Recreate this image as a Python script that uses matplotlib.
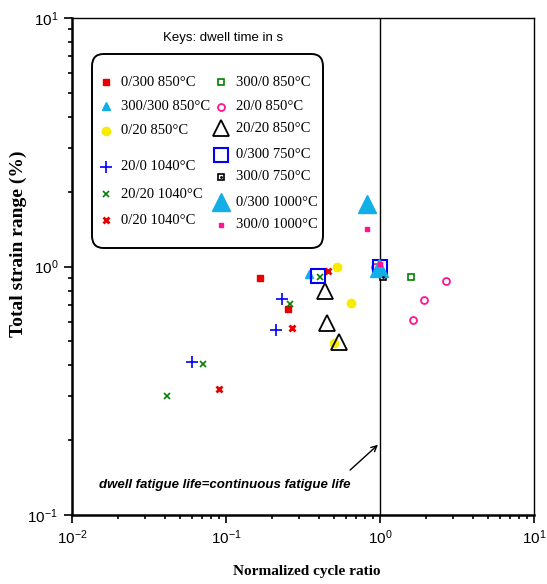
import matplotlib
matplotlib.use("Agg")
import matplotlib.pyplot as plt
from matplotlib.patches import FancyBboxPatch

plt.rcParams["font.family"] = ["Liberation Sans", "DejaVu Sans"]
plt.rcParams["mathtext.default"] = "regular"

# data: (x = normalized cycle ratio, y = total strain range %)
x_0300_850 = [0.166, 0.253]
y_0300_850 = [0.90, 0.673]
x_300300_850 = [0.346]
y_300300_850 = [0.929]
x_020_850 = [0.526, 0.648, 0.503]
y_020_850 = [1.0, 0.711, 0.492]
x_200_1040 = [0.231, 0.211, 0.0601]
y_200_1040 = [0.738, 0.555, 0.413]
x_2020_1040 = [0.26, 0.408, 0.071, 0.0414]
y_2020_1040 = [0.705, 0.904, 0.405, 0.302]
x_020_1040 = [0.459, 0.268, 0.090]
y_020_1040 = [0.955, 0.565, 0.322]
x_3000_850 = [1.59]
y_3000_850 = [0.904]
x_200_850 = [0.93, 2.68, 1.93, 1.64]
y_200_850 = [1.0, 0.871, 0.731, 0.608]
x_2020_850 = [0.44, 0.453, 0.542]
y_2020_850 = [0.80, 0.592, 0.497]
x_0300_750 = [0.396, 1.0]
y_0300_750 = [0.912, 1.0]
x_3000_750 = [1.04]
y_3000_750 = [0.91]
x_0300_1000 = [0.824, 0.99]
y_0300_1000 = [1.79, 0.985]
x_3000_1000 = [0.824, 1.0]
y_3000_1000 = [1.41, 1.02]

RED = "#e60000"
CYAN = "#12aee8"
YEL = "#f8ec00"
BLUE = "#0000ff"
GREEN = "#008000"
PINK = "#ff1493"

# label, x, y, style, legend column, legend row y (pixels)
series = [
    ("0/300 850°C", x_0300_850, y_0300_850, dict(marker="s", ms=5, color=RED, mec=RED), 0, 82),
    ("300/300 850°C", x_300300_850, y_300300_850, dict(marker="^", ms=6, color=CYAN, mec=CYAN), 0, 106),
    ("0/20 850°C", x_020_850, y_020_850, dict(marker="o", ms=6, color=YEL, mec=YEL), 0, 131),
    ("20/0 1040°C", x_200_1040, y_200_1040, dict(marker="+", ms=9, color=BLUE, mew=1.2), 0, 167),
    ("20/20 1040°C", x_2020_1040, y_2020_1040, dict(marker="x", ms=5, color=GREEN, mew=1.2), 0, 194),
    ("0/20 1040°C", x_020_1040, y_020_1040, dict(marker="x", ms=5, color=RED, mew=2), 0, 220),
    ("300/0 850°C", x_3000_850, y_3000_850, dict(marker="s", ms=5, mfc="none", mec=GREEN, mew=1.2), 1, 82),
    ("20/0 850°C", x_200_850, y_200_850, dict(marker="o", ms=5, mfc="none", mec=PINK, mew=1.3), 1, 107),
    ("20/20 850°C", x_2020_850, y_2020_850, dict(marker="^", ms=11, mfc="none", mec="black", mew=1.3), 1, 128),
    ("0/300 750°C", x_0300_750, y_0300_750, dict(marker="s", ms=10, mfc="none", mec=BLUE, mew=1.5), 1, 155),
    ("300/0 750°C", x_3000_750, y_3000_750, dict(marker="s", ms=5, mfc="white", mec="black", mew=1.2), 1, 177),
    ("0/300 1000°C", x_0300_1000, y_0300_1000, dict(marker="^", ms=13, color=CYAN, mec=CYAN), 1, 202),
    ("300/0 1000°C", x_3000_1000, y_3000_1000, dict(marker="s", ms=3, color=PINK, mec=PINK), 1, 225),
]

W, H = 547, 584
fig = plt.figure(figsize=(5.47, 5.84), dpi=100)
ax = fig.add_axes([72 / W, 1 - 515 / H, 462 / W, 497 / H])

ax.axvline(1.0, color="black", lw=1.0, zorder=1)

for lab, xs, ys, st, col, row in series:
    ax.plot(xs, ys, ls="none", zorder=3, **st)
    if lab == "300/0 750°C":
        ax.plot(xs, ys, ls="none", marker=".", ms=2, color="black", zorder=4)

ax.set_xscale("log")
ax.set_yscale("log")
ax.set_xlim(0.01, 10)
ax.set_ylim(0.1, 10)

ax.tick_params(which="both", direction="out", top=False, right=False,
               labelsize=11, width=1.2)
ax.tick_params(which="major", length=6, pad=4)
ax.tick_params(which="minor", length=3)
for s in ["bottom", "left"]:
    ax.spines[s].set_linewidth(1.8)
for s in ["top", "right"]:
    ax.spines[s].set_linewidth(1.0)

ax.set_xlabel("Normalized cycle ratio", family="Liberation Serif",
              fontweight="bold", fontsize=11, va="center")
ax.xaxis.set_label_coords((307 - 72) / 462, (515 - 572) / 497)
ax.set_ylabel("Total strain range (%)", family="Liberation Serif",
              fontweight="bold", fontsize=14)
ax.yaxis.set_label_coords((27 - 72) / 462, (515 - 244) / 497)


def ax_xy(px, py):
    return (px - 72) / 462, (515 - py) / 497


# legend box drawn by hand
bx0, by0 = ax_xy(92, 248)
bx1, by1 = ax_xy(323, 54)
box = FancyBboxPatch((bx0, by0), bx1 - bx0, by1 - by0,
                     boxstyle="round,pad=0,rounding_size=0.025",
                     transform=ax.transAxes, fc="white", ec="black",
                     lw=1.4, zorder=5)
ax.add_patch(box)
tx, ty = ax_xy(223, 38)
ax.text(tx, ty, "Keys: dwell time in s", transform=ax.transAxes,
        ha="center", va="center", fontsize=9.5, zorder=6)

for lab, xs, ys, st, col, row in series:
    mx = 106 if col == 0 else 221
    tx0 = 121 if col == 0 else 236
    a, b = ax_xy(mx, row)
    ax.plot([a], [b], transform=ax.transAxes, ls="none", zorder=6,
            clip_on=False, **st)
    if lab == "300/0 750°C":
        ax.plot([a], [b], transform=ax.transAxes, ls="none", marker=".",
                ms=2, color="black", zorder=7)
    c, d = ax_xy(tx0, row)
    ax.text(c, d, lab, transform=ax.transAxes, ha="left", va="center",
            family="Liberation Serif", fontsize=10.5, zorder=6)

# annotation for the 1:1 line
ax.annotate("", xy=(1.0, 0.195), xytext=(0.62, 0.149),
            arrowprops=dict(arrowstyle="->", color="black", lw=1.0))
ax.text(0.0986, 0.132, "dwell fatigue life=continuous fatigue life",
        ha="center", va="center", fontsize=9.5, fontstyle="italic",
        fontweight="bold", family=["Liberation Sans Narrow", "Liberation Sans"])

fig.savefig("out.png", dpi=100)
